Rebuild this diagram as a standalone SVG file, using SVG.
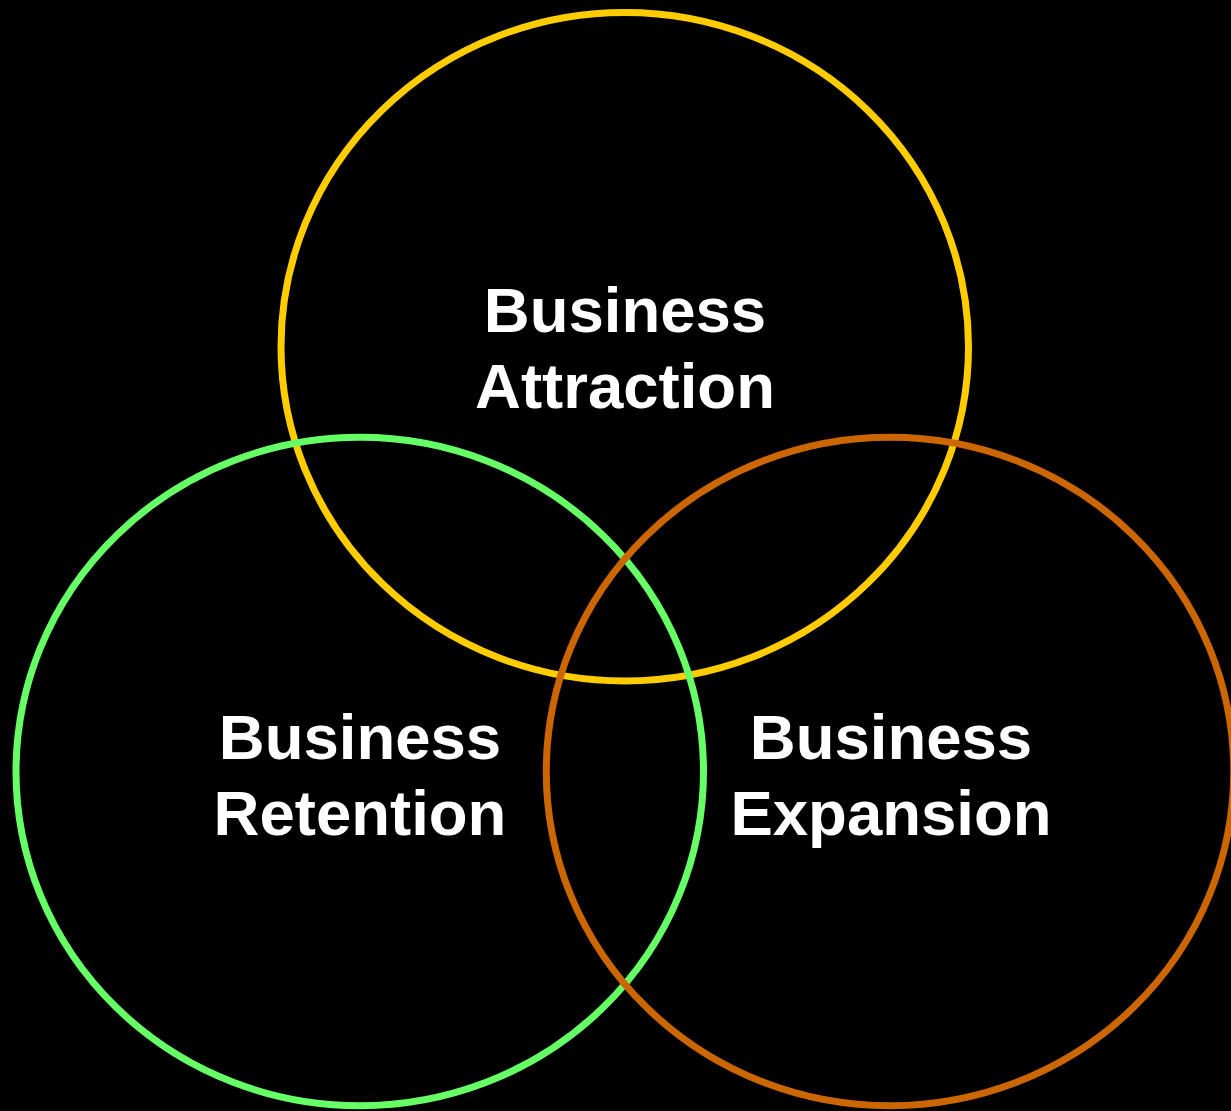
<svg xmlns="http://www.w3.org/2000/svg" width="1231" height="1111" viewBox="0 0 1231 1111">
<style>
.ring{fill:none;stroke-width:7}
.lbl{font-family:"Liberation Sans",Arial,sans-serif;font-weight:bold;font-size:63.5px;fill:#FFFFFF;text-anchor:middle}
</style>
<rect x="0" y="0" width="1231" height="1111" fill="#000000"/>
<g id="attraction">
<ellipse class="ring" cx="624.75" cy="346.75" rx="343.75" ry="334.25" stroke="#FFCC00"/>
<text class="lbl" x="625" y="332">Business</text>
<text class="lbl" x="625" y="408">Attraction</text>
</g>
<g id="retention">
<ellipse class="ring" cx="359.75" cy="771.5" rx="343.75" ry="334.25" stroke="#66FF66"/>
<text class="lbl" x="360" y="759">Business</text>
<text class="lbl" x="360" y="835">Retention</text>
</g>
<g id="expansion">
<ellipse class="ring" cx="890" cy="771.5" rx="343.75" ry="334.25" stroke="#CC6600"/>
<text class="lbl" x="891" y="759">Business</text>
<text class="lbl" x="891" y="835">Expansion</text>
</g>
<g id="connectors"/>
</svg>
